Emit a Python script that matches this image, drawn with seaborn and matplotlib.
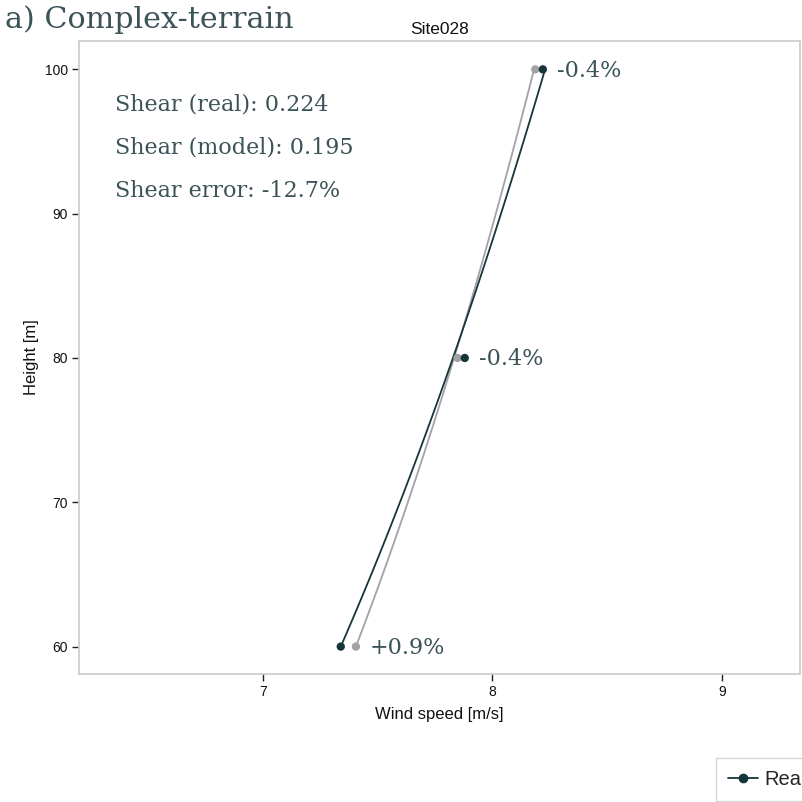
import matplotlib
matplotlib.use("Agg")
import matplotlib.pyplot as plt
from matplotlib.lines import Line2D
import seaborn as sns
import pandas as pd
import numpy as np

# Measured and modelled wind profile at one mast
heights = [60, 80, 100]
speed_real = [7.34, 7.88, 8.22]
error_pct = [0.9, -0.4, -0.4]          # model error relative to measurement
error_labels = ["+0.9%", "-0.4%", "-0.4%"]
speed_model = [r * (1 + e / 100) for r, e in zip(speed_real, error_pct)]

shear_real = 0.224
shear_model = 0.195
shear_error = -12.7

site_name = "Site028"
panel_title = "a) Complex-terrain"
x_ticks = [7, 8, 9]
y_ticks = [60, 70, 80, 90, 100]

real_color = "#17363b"
model_color = "#a3a3a6"
note_color = "#3c5357"
serif = ["DejaVu Serif"]
sans = ["Liberation Sans", "DejaVu Sans"]

# Power-law profiles anchored at the lowest level: v(h) = v0 * (h / h0) ** alpha
h_grid = np.linspace(heights[0], heights[-1], 60)
curves = pd.DataFrame({
    "height": np.concatenate([h_grid, h_grid]),
    "speed": np.concatenate([
        speed_model[0] * (h_grid / heights[0]) ** shear_model,
        speed_real[0] * (h_grid / heights[0]) ** shear_real,
    ]),
    "series": ["Model"] * len(h_grid) + ["Real"] * len(h_grid),
})
points = pd.DataFrame({
    "speed": speed_model + speed_real,
    "height": heights + heights,
    "series": ["Model"] * 3 + ["Real"] * 3,
})
palette = {"Model": model_color, "Real": real_color}

sns.set_theme(style="white")
plt.rcParams["font.family"] = sans

fig = plt.figure(figsize=(8.02, 8.02), dpi=100)
ax = fig.add_axes([0.0985, 0.1596, 0.8990, 0.7899])

sns.lineplot(data=curves, x="speed", y="height", hue="series", palette=palette,
             hue_order=["Model", "Real"], sort=False, estimator=None,
             orient="y", linewidth=1.3, ax=ax, legend=False)
sns.scatterplot(data=points, x="speed", y="height", hue="series", palette=palette,
                hue_order=["Model", "Real"], s=36, linewidth=0, ax=ax,
                legend=False, zorder=3)

ax.set_xlim(6.2, 9.34)
ax.set_ylim(58.1, 102.0)
ax.set_xticks(x_ticks)
ax.set_yticks(y_ticks)
ax.tick_params(axis="both", which="major", direction="out", length=5, width=1,
               color="#222222", labelsize=10, labelcolor="#111111", pad=3,
               bottom=True, left=True)
for s in ax.spines.values():
    s.set_color("#cfcfcf")
    s.set_linewidth(1.3)

ax.set_xlabel("Wind speed [m/s]", fontsize=12, color="#111111", labelpad=6)
ax.set_ylabel("Height [m]", fontsize=12, color="#111111", labelpad=4)
ax.set_title(site_name, fontsize=12.5, color="#111111", pad=5)

# Percent error next to each level
for h, r, m, lab in zip(heights, speed_real, speed_model, error_labels):
    ax.annotate(lab, xy=(max(r, m), h), xytext=(10, -1), textcoords="offset points",
                ha="left", va="center", fontsize=16, color=note_color,
                family=serif)

# Shear summary
notes = [f"Shear (real): {shear_real:.3f}",
         f"Shear (model): {shear_model:.3f}",
         f"Shear error: {shear_error:.1f}%"]
for i, t in enumerate(notes):
    ax.text(0.05, 0.899 - i * 0.0686, t, transform=ax.transAxes, ha="left",
            va="center", fontsize=16, color=note_color, family=serif)

fig.text(0.006, 0.976, panel_title, ha="left", va="center", fontsize=21.7,
         color=note_color, family=serif)

# Legend sits in the lower right corner, partly off the canvas
leg_handles = [Line2D([], [], color=real_color, marker="o", markersize=6, lw=1.3),
               Line2D([], [], color=model_color, marker="o", markersize=6, lw=1.3)]
fig.legend(leg_handles, ["Real", "Model"], loc="upper left",
           bbox_to_anchor=(716 / 802, 1 - 758 / 802), ncol=2,
           frameon=True, fontsize=14.5, handlelength=1.5, handletextpad=0.3,
           borderpad=0.6, edgecolor="#cccccc", fancybox=False,
           borderaxespad=0)

fig.savefig("out.png", dpi=100, facecolor="white")
